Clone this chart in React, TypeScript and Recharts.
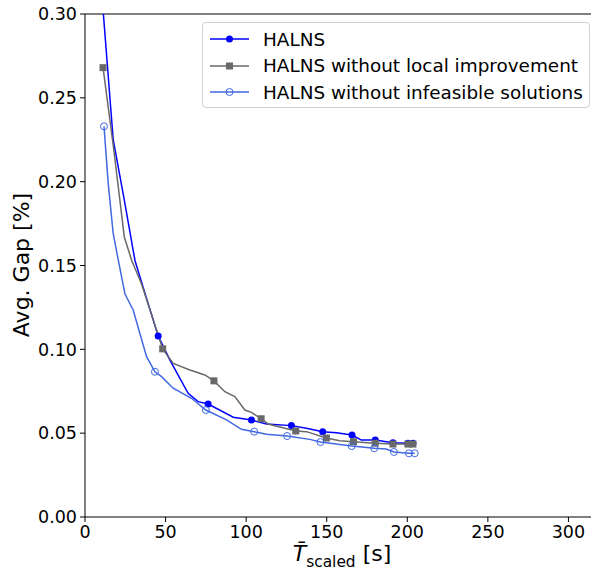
import { LineChart, Line, XAxis, YAxis, ReferenceLine } from 'recharts';

// HALNS (full)
const halnsX = [11, 17.5, 24.4, 31, 38, 45.4, 52.7, 64, 70.2, 76.4, 92, 103.3, 112.6, 128.1, 137.4, 147.5, 156, 165.7, 171.5, 180.1, 191.1, 200.4, 203.5];
const halnsY = [0.305, 0.225, 0.189, 0.153, 0.131, 0.108, 0.0936, 0.0738, 0.0688, 0.0674, 0.0595, 0.0578, 0.0555, 0.0545, 0.0529, 0.0509, 0.0503, 0.0489, 0.0459, 0.0459, 0.0443, 0.044, 0.044];
const halnsMarks = [0, 5, 9, 11, 13, 15, 17, 19, 20, 21, 22];

// HALNS without local improvement
const noLocalX = [11.2, 18, 24.4, 29, 35.1, 44.4, 48.2, 54.7, 65.1, 74.4, 80, 86.8, 93, 99.2, 103.3, 109.3, 113.6, 130.8, 137.4, 149.8, 158, 166.6, 180.1, 191.1, 200.4, 203.5];
const noLocalY = [0.268, 0.218, 0.167, 0.153, 0.139, 0.1115, 0.1003, 0.0916, 0.0877, 0.0847, 0.0812, 0.0747, 0.0718, 0.0638, 0.0624, 0.0586, 0.0555, 0.0513, 0.0509, 0.0471, 0.0455, 0.0449, 0.044, 0.0435, 0.0435, 0.0435];
const noLocalMarks = [0, 6, 10, 15, 17, 19, 21, 22, 23, 24, 25];

// HALNS without infeasible solutions
const noInfX = [11.8, 14.4, 17.5, 20.7, 24.8, 29.9, 38.2, 43.4, 47.5, 54.7, 66.1, 75, 87.8, 97.1, 105, 112.6, 125.4, 139.5, 146.1, 165.5, 179.5, 187, 191.7, 201, 204.6];
const noInfY = [0.233, 0.199, 0.169, 0.153, 0.133, 0.1235, 0.0956, 0.0866, 0.0837, 0.0768, 0.0708, 0.0638, 0.0579, 0.0523, 0.0509, 0.0493, 0.0483, 0.0463, 0.0447, 0.0423, 0.041, 0.0405, 0.0388, 0.038, 0.038];
const noInfMarks = [0, 7, 11, 14, 16, 18, 19, 20, 22, 23, 24];

const xTicks = [0, 50, 100, 150, 200, 250, 300];
const yTicks = [0, 0.05, 0.1, 0.15, 0.2, 0.25, 0.3];

const FONT = '"DejaVu Sans", sans-serif';

const toPoints = (xs: number[], ys: number[], marks: number[]) =>
  xs.map((x, i) => ({ x, y: ys[i], m: marks.includes(i) }));

const series = [
  { name: 'HALNS', color: '#0000ff', marker: 'filled', data: toPoints(halnsX, halnsY, halnsMarks) },
  { name: 'HALNS without local improvement', color: '#696969', marker: 'square', data: toPoints(noLocalX, noLocalY, noLocalMarks) },
  { name: 'HALNS without infeasible solutions', color: '#4169e1', marker: 'open', data: toPoints(noInfX, noInfY, noInfMarks) },
];

function Marker({ kind, color, cx, cy }: { kind: string; color: string; cx: number; cy: number }) {
  if (kind === 'square') return <rect x={cx - 3.5} y={cy - 3.5} width={7} height={7} fill={color} />;
  if (kind === 'open') return <circle cx={cx} cy={cy} r={3.5} fill="none" stroke={color} strokeWidth={1} />;
  return <circle cx={cx} cy={cy} r={3.5} fill={color} />;
}

export default function App() {
  return (
    <div style={{ position: 'absolute', left: 0, top: 0, width: 592, height: 575, background: '#fff', fontFamily: FONT }}>
      <LineChart width={592} height={575} margin={{ top: 14, right: 1, bottom: 0, left: 0 }}>
        <XAxis
          type="number"
          dataKey="x"
          domain={[0, 314]}
          ticks={xTicks}
          height={58}
          tickSize={5}
          tickMargin={4}
          tick={{ fontSize: 17.5, fill: '#000', fontFamily: FONT }}
          axisLine={{ stroke: '#000' }}
          tickLine={{ stroke: '#000' }}
        />
        <YAxis
          type="number"
          dataKey="y"
          domain={[0, 0.3]}
          ticks={yTicks}
          allowDataOverflow
          width={85}
          tickSize={5}
          tickMargin={3}
          tickFormatter={(v: number) => v.toFixed(2)}
          tick={{ fontSize: 17.5, fill: '#000', fontFamily: FONT }}
          axisLine={{ stroke: '#000' }}
          tickLine={{ stroke: '#000' }}
        />
        <ReferenceLine y={0.3} stroke="#000" ifOverflow="visible" />
        {series.map((s) => (
          <Line
            key={s.name}
            data={s.data}
            dataKey="y"
            type="linear"
            stroke={s.color}
            strokeWidth={1.5}
            isAnimationActive={false}
            dot={(p: any) =>
              p.payload.m ? (
                <Marker key={`${s.name}-${p.index}`} kind={s.marker} color={s.color} cx={p.cx} cy={p.cy} />
              ) : (
                <g key={`${s.name}-${p.index}`} />
              )
            }
            activeDot={false}
          />
        ))}
      </LineChart>

      {/* y axis label */}
      <div
        style={{
          position: 'absolute',
          left: 21,
          top: 265,
          transform: 'translate(-50%, -50%) rotate(-90deg)',
          fontSize: 22,
          whiteSpace: 'nowrap',
        }}
      >
        Avg. Gap [%]
      </div>

      {/* x axis label */}
      <div
        style={{
          position: 'absolute',
          left: 342,
          top: 556,
          transform: 'translate(-50%, -50%)',
          fontSize: 22,
          whiteSpace: 'nowrap',
        }}
      >
        <i>T̄</i>
        <sub style={{ fontSize: 15.4 }}>scaled</sub> [s]
      </div>

      {/* legend */}
      <div
        style={{
          position: 'absolute',
          left: 202,
          top: 22,
          width: 388,
          height: 86,
          border: '1px solid #d0d0d0',
          borderRadius: 4,
          boxSizing: 'border-box',
          paddingTop: 3,
        }}
      >
        {series.map((s) => (
          <div key={s.name} style={{ display: 'flex', alignItems: 'center', height: 26.5 }}>
            <svg width={60} height={20} style={{ flex: 'none' }}>
              <line x1={7} y1={10} x2={46} y2={10} stroke={s.color} strokeWidth={1.5} />
              <Marker kind={s.marker} color={s.color} cx={26.5} cy={10} />
            </svg>
            <span style={{ fontSize: 18.4, color: '#000', whiteSpace: 'nowrap' }}>{s.name}</span>
          </div>
        ))}
      </div>
    </div>
  );
}
